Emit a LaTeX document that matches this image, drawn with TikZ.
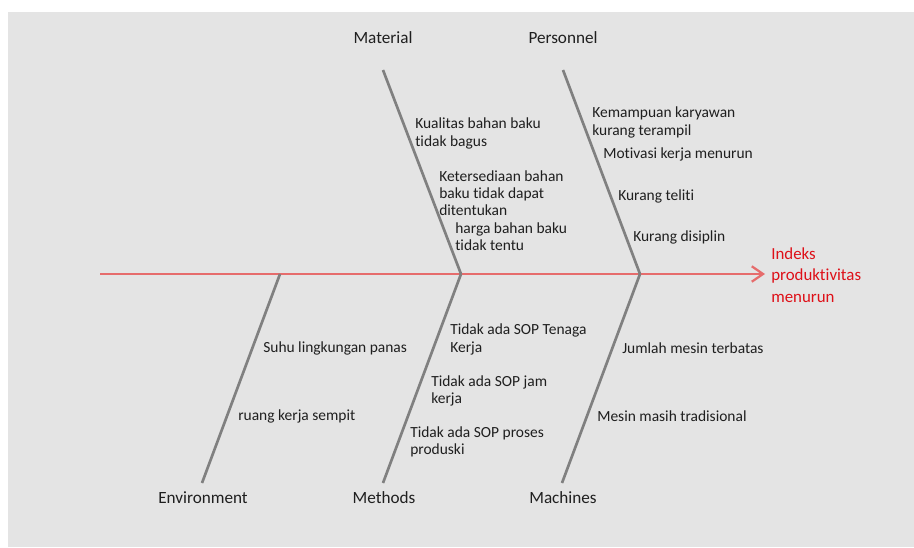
\documentclass[tikz,border=0pt]{standalone}
\usepackage{fontspec}
\setmainfont[Ligatures=NoCommon]{Carlito}
\usepackage{tikz}
\usetikzlibrary{arrows.meta}

\definecolor{bggray}{RGB}{228,228,228}
\definecolor{bonegray}{RGB}{128,128,128}
\definecolor{spinered}{RGB}{230,108,108}
\definecolor{effectred}{RGB}{222,16,24}

\tikzset{
  cause/.style={anchor=west,align=left,inner sep=0pt,font=\fontsize{11}{12.2}\selectfont,text=black!88},
  group/.style={inner sep=0pt,font=\fontsize{12.2}{14}\selectfont,text=black!88},
  bone/.style={draw=bonegray,line width=1.9pt},
  spine/.style={draw=spinered,line width=2.1pt,-{Straight Barb[length=8pt,width=11pt,line width=1.6pt]}}
}

\begin{document}
\begin{tikzpicture}[x=0.025cm,y=-0.025cm]
\useasboundingbox (0,0) rectangle (914,547);
\fill[bggray] (8,12) rectangle (914,547);

\coordinate (s0) at (100,274);
\coordinate (s1) at (765,274);
\coordinate (j1) at (280,274);
\coordinate (j2) at (461,274);
\coordinate (j3) at (640,274);

\coordinate (t2) at (383,70);
\coordinate (t3) at (563,70);
\coordinate (b1) at (202,483);
\coordinate (b2) at (383,483);
\coordinate (b3) at (562,483);

\draw[spine] (s0) -- (s1);
\draw[bone] (t2) -- (j2);
\draw[bone] (t3) -- (j3);
\draw[bone] (j1) -- (b1);
\draw[bone] (j2) -- (b2);
\draw[bone] (j3) -- (b3);

\node[group] (g2) at (383,38) {Material};
\node[group] (g3) at (563,38) {Personnel};
\node[group] (g4) at (203,498) {Environment};
\node[group] (g5) at (384,498) {Methods};
\node[group] (g6) at (563,498) {Machines};

\node[cause,text=effectred,font=\fontsize{12}{15.4}\selectfont] (eff) at (771,275) {Indeks\\produktivitas\\menurun};

\node[cause] (21) at (415,133.5) {Kualitas bahan baku\\tidak bagus};
\node[cause] (22) at (439,193) {Ketersediaan bahan\\baku tidak dapat\\ditentukan};
\node[cause] (23) at (455,236.5) {harga bahan baku\\tidak tentu};

\node[cause] (31) at (592,122.5) {Kemampuan karyawan\\kurang terampil};
\node[cause] (32) at (603,154) {Motivasi kerja menurun};
\node[cause] (33) at (618,196) {Kurang teliti};
\node[cause] (34) at (633,237) {Kurang disiplin};

\node[cause] (41) at (263,348) {Suhu lingkungan panas};
\node[cause] (42) at (238,416) {ruang kerja sempit};

\node[cause] (51) at (450,339.5) {Tidak ada SOP Tenaga\\Kerja};
\node[cause] (52) at (431,391) {Tidak ada SOP jam\\kerja};
\node[cause] (53) at (410,442) {Tidak ada SOP proses\\produski};

\node[cause] (61) at (622,348) {Jumlah mesin terbatas};
\node[cause] (62) at (597,416) {Mesin masih tradisional};
\end{tikzpicture}
\end{document}
